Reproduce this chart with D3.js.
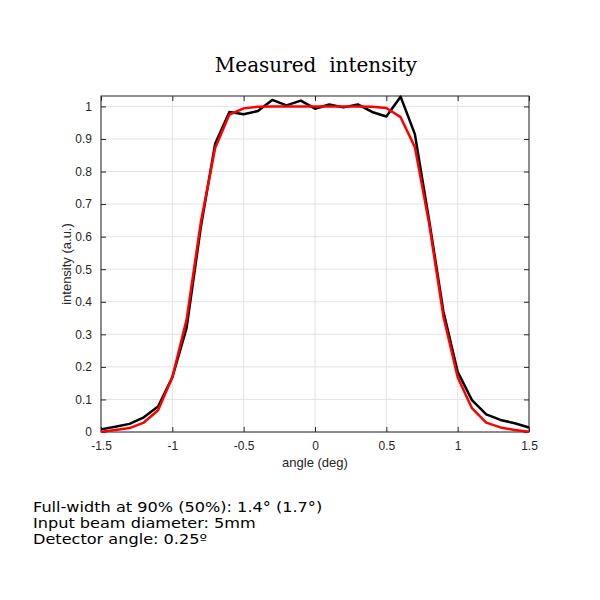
<!DOCTYPE html>
<html><head><meta charset="utf-8">
<script src="https://cdn.jsdelivr.net/npm/d3@7"></script>
<style>body{margin:0;background:#fff}</style>
</head><body>
<svg id="chart" width="600" height="600"></svg>
<script>
const angles = [-1.5,-1.4,-1.3,-1.2,-1.1,-1.0,-0.9,-0.8,-0.7,-0.6,-0.5,-0.4,-0.3,-0.2,-0.1,0,0.1,0.2,0.3,0.4,0.5,0.6,0.7,0.8,0.9,1.0,1.1,1.2,1.3,1.4,1.5];
const measured = [0.008,0.016,0.025,0.045,0.078,0.168,0.32,0.63,0.885,0.983,0.976,0.986,1.02,1.003,1.018,0.993,1.006,0.997,1.006,0.983,0.969,1.03,0.915,0.65,0.37,0.185,0.098,0.054,0.037,0.027,0.014];
const fitted = [0.001,0.006,0.012,0.029,0.067,0.168,0.345,0.645,0.872,0.975,0.994,0.999,1,1,1,1,1,1,1,0.999,0.995,0.967,0.875,0.64,0.355,0.168,0.073,0.029,0.014,0.006,0.001];
const xTicks = [-1.5,-1,-0.5,0,0.5,1,1.5];
const yTicks = [0,0.1,0.2,0.3,0.4,0.5,0.6,0.7,0.8,0.9,1];
const xTickLabels = ["-1.5","-1","-0.5","0","0.5","1","1.5"];
const yTickLabels = ["0","0.1","0.2","0.3","0.4","0.5","0.6","0.7","0.8","0.9","1"];
const notes = ["Full-width at 90% (50%): 1.4\u00b0 (1.7\u00b0)","Input beam diameter: 5mm","Detector angle: 0.25\u00ba"];

const svg = d3.select("#chart");
const L=101, R=529, T=96, B=432;
const x = d3.scaleLinear().domain([-1.5,1.5]).range([L,R]);
const y = d3.scaleLinear().domain([0,1.032]).range([B,T]);

// grid
svg.append("g").selectAll("line").data(xTicks).join("line")
  .attr("x1",d=>x(d)).attr("x2",d=>x(d)).attr("y1",T).attr("y2",B)
  .attr("stroke","#e3e3e3").attr("stroke-width",1);
svg.append("g").selectAll("line").data(yTicks).join("line")
  .attr("x1",L).attr("x2",R).attr("y1",d=>y(d)).attr("y2",d=>y(d))
  .attr("stroke","#e3e3e3").attr("stroke-width",1);

function styleAxis(g){
  g.select(".domain").remove();
  g.selectAll(".tick line").attr("stroke","#262626");
  g.selectAll(".tick text").attr("fill","#262626").style("font-family","'Liberation Sans',Arial,sans-serif").style("font-size","12px");
}
svg.append("g").attr("transform",`translate(0,${B})`)
  .call(d3.axisBottom(x).tickValues(xTicks).tickFormat((d,i)=>xTickLabels[i]).tickSizeInner(-5).tickSizeOuter(0).tickPadding(9))
  .call(styleAxis);
svg.append("g").attr("transform",`translate(0,${T})`)
  .call(d3.axisTop(x).tickValues(xTicks).tickFormat("").tickSizeInner(-5).tickSizeOuter(0))
  .call(styleAxis);
svg.append("g").attr("transform",`translate(${L},0)`)
  .call(d3.axisLeft(y).tickValues(yTicks).tickFormat((d,i)=>yTickLabels[i]).tickSizeInner(-5).tickSizeOuter(0).tickPadding(9))
  .call(styleAxis);
svg.append("g").attr("transform",`translate(${R},0)`)
  .call(d3.axisRight(y).tickValues(yTicks).tickFormat("").tickSizeInner(-5).tickSizeOuter(0))
  .call(styleAxis);

svg.append("rect").attr("x",L).attr("y",T).attr("width",R-L).attr("height",B-T)
  .attr("fill","none").attr("stroke","#262626").attr("stroke-width",1);

const line = d3.line().x((d,i)=>x(angles[i])).y(d=>y(d));
svg.append("path").datum(measured).attr("d",line).attr("fill","none")
  .attr("stroke","#000").attr("stroke-width",2.5).attr("stroke-linejoin","round");
svg.append("path").datum(fitted).attr("d",line).attr("fill","none")
  .attr("stroke","#ff0000").attr("stroke-width",2.5).attr("stroke-linejoin","round");

svg.append("text").attr("x",(L+R)/2).attr("y",467).attr("text-anchor","middle")
  .attr("fill","#262626").style("font-family","'Liberation Sans',Arial,sans-serif").style("font-size","13px")
  .text("angle (deg)");
svg.append("text").attr("transform",`translate(71,${(T+B)/2}) rotate(-90)`).attr("text-anchor","middle")
  .attr("fill","#262626").style("font-family","'Liberation Sans',Arial,sans-serif").style("font-size","13px")
  .text("intensity (a.u.)");

svg.append("text").attr("x",316).attr("y",72).attr("text-anchor","middle")
  .attr("fill","#000").style("font-family","'DejaVu Serif',serif").style("font-size","20px")
  .style("white-space","pre").attr("xml:space","preserve")
  .text("Measured  intensity");

svg.append("g").attr("transform","translate(33,0) scale(1.195,1)")
  .selectAll("text").data(notes).join("text")
  .attr("x",0).attr("y",(d,i)=>512+i*16)
  .attr("fill","#000").style("font-family","'DejaVu Sans',Verdana,sans-serif").style("font-size","13.5px")
  .text(d=>d);
</script>
</body></html>
